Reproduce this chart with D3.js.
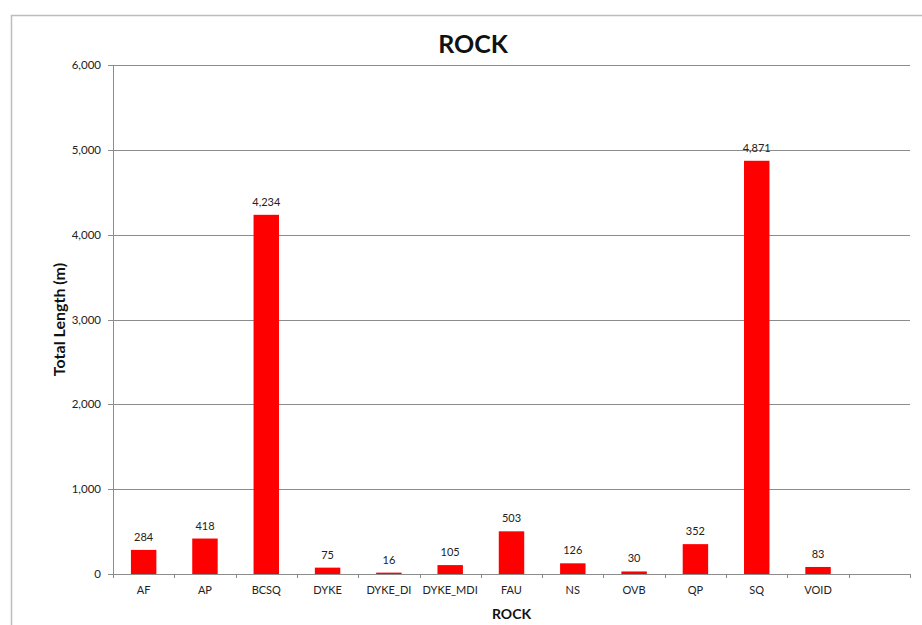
<!DOCTYPE html>
<html>
<head>
<meta charset="utf-8">
<script src="https://cdn.jsdelivr.net/npm/d3@7"></script>
<style>
  body { margin: 0; background: #fff; }
  svg { display: block; font-family: Lato, "Open Sans", sans-serif; }
</style>
</head>
<body>
<svg id="chart" width="922" height="625"></svg>
<script>
// Chart data
const categories = ["AF", "AP", "BCSQ", "DYKE", "DYKE_DI", "DYKE_MDI", "FAU", "NS", "OVB", "QP", "SQ", "VOID", ""];
const lengths = [284, 418, 4234, 75, 16, 105, 503, 126, 30, 352, 4871, 83, null];
const yTicks = [0, 1000, 2000, 3000, 4000, 5000, 6000];

const svg = d3.select("#chart");
const margin = { left: 113, right: 12, top: 65, bottom: 51 };

// outer chart border
svg.append("rect")
    .attr("x", 11.5).attr("y", 15.5)
    .attr("width", 930).attr("height", 640)
    .attr("fill", "none")
    .attr("stroke", "#bdbdbd")
    .attr("stroke-width", 1.5);

const x = d3.scaleBand()
    .domain(categories.map((c, i) => i))
    .range([margin.left, 910])
    .paddingInner(0.585)
    .paddingOuter(0.2925);

const y = d3.scaleLinear()
    .domain([0, 6000])
    .range([574, margin.top]);

const fmt = d3.format(",");

// gridlines
svg.append("g")
    .selectAll("line")
    .data(yTicks)
    .join("line")
    .attr("x1", margin.left - 5)
    .attr("x2", 910)
    .attr("y1", d => Math.round(y(d)) + 0.5)
    .attr("y2", d => Math.round(y(d)) + 0.5)
    .attr("stroke", "#8c8c8c")
    .attr("stroke-width", 1);

// y tick labels
svg.append("g")
    .selectAll("text")
    .data(yTicks)
    .join("text")
    .attr("x", margin.left - 12)
    .attr("y", d => y(d))
    .attr("dy", "0.35em")
    .attr("text-anchor", "end")
    .attr("font-size", "11.5px")
    .attr("fill", "#222")
    .text(d => fmt(d));

// y axis line
svg.append("line")
    .attr("x1", margin.left + 0.5).attr("x2", margin.left + 0.5)
    .attr("y1", y(6000)).attr("y2", y(0))
    .attr("stroke", "#8c8c8c");

// x tick marks at category boundaries
const step = x.step();
svg.append("g")
    .selectAll("line")
    .data(d3.range(categories.length + 1))
    .join("line")
    .attr("x1", i => Math.round(margin.left + i * step) + 0.5)
    .attr("x2", i => Math.round(margin.left + i * step) + 0.5)
    .attr("y1", y(0))
    .attr("y2", y(0) + 4)
    .attr("stroke", "#8c8c8c");

// bars
svg.append("g")
    .selectAll("rect")
    .data(lengths.map((v, i) => ({ i, v })).filter(d => d.v !== null))
    .join("rect")
    .attr("x", d => x(d.i))
    .attr("width", x.bandwidth())
    .attr("y", d => y(d.v))
    .attr("height", d => y(0) - y(d.v))
    .attr("fill", "#ff0000");

// value labels
svg.append("g")
    .selectAll("text")
    .data(lengths.map((v, i) => ({ i, v })).filter(d => d.v !== null))
    .join("text")
    .attr("x", d => x(d.i) + x.bandwidth() / 2)
    .attr("y", d => y(d.v) - 9)
    .attr("text-anchor", "middle")
    .attr("font-size", "11px")
    .attr("fill", "#222")
    .text(d => fmt(d.v));

// category labels
svg.append("g")
    .selectAll("text")
    .data(categories.map((c, i) => ({ c, i })))
    .join("text")
    .attr("x", d => x(d.i) + x.bandwidth() / 2)
    .attr("y", y(0) + 20)
    .attr("text-anchor", "middle")
    .attr("font-size", "11px")
    .attr("fill", "#222")
    .text(d => d.c);

// titles
svg.append("text")
    .attr("x", 473).attr("y", 53)
    .attr("text-anchor", "middle")
    .attr("font-size", "25px")
    .attr("font-weight", "bold")
    .attr("fill", "#111")
    .text("ROCK");

svg.append("text")
    .attr("x", (margin.left + 910) / 2).attr("y", 619)
    .attr("text-anchor", "middle")
    .attr("font-size", "14px")
    .attr("font-weight", "bold")
    .attr("fill", "#111")
    .text("ROCK");

svg.append("text")
    .attr("transform", `translate(65, ${(y(0) + y(6000)) / 2}) rotate(-90)`)
    .attr("text-anchor", "middle")
    .attr("font-size", "16px")
    .attr("font-weight", "bold")
    .attr("fill", "#111")
    .text("Total Length (m)");
</script>
</body>
</html>
